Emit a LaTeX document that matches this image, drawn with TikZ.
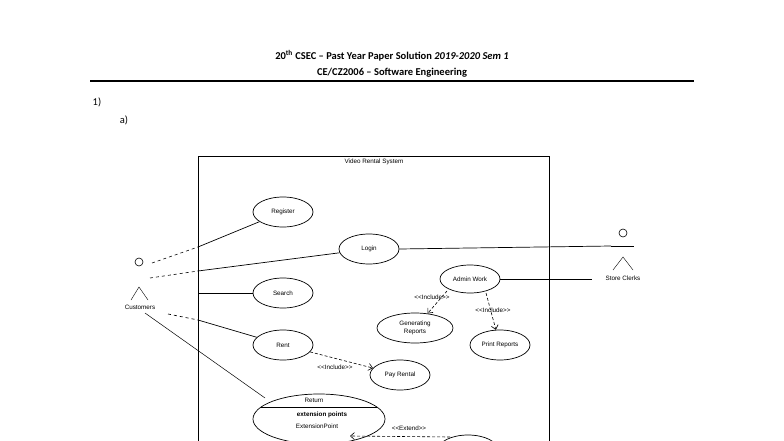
\documentclass[tikz,border=0pt]{standalone}
\usepackage{fontspec}
\setmainfont{Carlito}
\newfontfamily\dfont{Liberation Sans}
\usetikzlibrary{arrows.meta,shapes.geometric}
\begin{document}
\begin{tikzpicture}[x=1pt,y=-1pt,
  uc/.style={draw,ellipse,inner sep=0pt,line width=0.7pt,font=\dfont\fontsize{6.3}{7.5}\selectfont,align=center},
  lbl/.style={font=\dfont\fontsize{6.3}{7.5}\selectfont,inner sep=0pt},
  inc/.style={densely dashed,line width=0.6pt,-{Straight Barb[length=4pt,width=7pt]}},
  ln/.style={line width=0.7pt},
  dsh/.style={dashed,line width=0.6pt}]
\useasboundingbox (0,0) rectangle (784,441);
\node[font=\bfseries\fontsize{10.5}{12}\selectfont] (h1) at (392,56) {20\textsuperscript{th} CSEC -- Past Year Paper Solution \textit{2019-2020 Sem 1}};
\node[font=\bfseries\fontsize{10.5}{12}\selectfont] (h2) at (392,73) {CE/CZ2006 -- Software Engineering};
\draw[line width=1.2pt] (90,81) -- (694,81);
\node[font=\fontsize{10.5}{12}\selectfont] (q1) at (97,102) {1)};
\node[font=\fontsize{10.5}{12}\selectfont] (qa) at (124,120) {a)};
% system
\draw[line width=0.8pt] (198,445) -- (198,156) -- (549,156) -- (549,445);
\node[lbl] (sys) at (374,162) {Video Rental System};
% use cases
\node[uc,minimum width=60pt,minimum height=30pt] (reg) at (283,212) {Register};
\node[uc,minimum width=60pt,minimum height=30pt] (login) at (369,249) {Login};
\node[uc,minimum width=60pt,minimum height=30pt] (search) at (283,293) {Search};
\node[uc,minimum width=60pt,minimum height=30pt] (rent) at (283,345) {Rent};
\node[uc,minimum width=60pt,minimum height=30pt] (pay) at (400,375) {Pay Rental};
\node[uc,minimum width=60pt,minimum height=28pt] (admin) at (470,279) {Admin Work};
\node[uc,minimum width=76pt,minimum height=30pt] (gen) at (415,328) {Generating\\Reports};
\node[uc,minimum width=60pt,minimum height=30pt] (print) at (500,345) {Print Reports};
\node[draw,ellipse,line width=0.7pt,minimum width=132pt,minimum height=50pt] (ret) at (319,419) {};
\draw[line width=0.7pt] (261,407) -- (377,407);
\node[lbl] (rett) at (314,400) {Return};
\node[lbl,font=\dfont\bfseries\fontsize{6.3}{7.5}\selectfont] (ep) at (322,415) {extension points};
\node[lbl] (ep2) at (317,426) {ExtensionPoint};
\node[draw,ellipse,line width=0.7pt,minimum width=60pt,minimum height=30pt] (ext) at (468,450) {};
% actors
\draw[line width=0.6pt] (139,262) circle (4);
\draw[line width=0.4pt] (131,300) -- (139,287) -- (148,300);
\node[lbl] (cust) at (140,307) {Customers};
\coordinate (c1) at (152,263);
\coordinate (c2) at (150,278);
\coordinate (c3) at (168,314);
\coordinate (c4) at (145,313);
\draw[line width=0.6pt] (623,233) circle (4);
\draw[line width=0.6pt] (611,246) -- (634,246);
\draw[line width=0.4pt] (613,270) -- (623,257) -- (633,270);
\node[lbl] (clerk) at (623,278) {Store Clerks};
\coordinate (k1) at (611,246);
\coordinate (k2) at (592,279);
\coordinate (rx) at (350,436);
\coordinate (ex) at (450,437);
% associations
\draw[dsh] (c1) -- (198,247);
\draw[ln] (198,247) -- (reg);
\draw[dsh] (c2) -- (198,271);
\draw[ln] (198,271) -- (login);
\draw[ln] (198,293) -- (search);
\draw[dsh] (c3) -- (198,320);
\draw[ln] (198,320) -- (rent);
\draw[line width=0.5pt] (c4) -- (265,398);
\draw[ln] (login.east) -- (k1);
\draw[ln] (admin.east) -- (k2);
% includes
\draw[inc] (447,291) -- (gen);
\node[lbl] (i1) at (432,297) {<<Include>>};
\draw[inc] (486,293) -- (print);
\node[lbl] (i2) at (493,310) {<<Include>>};
\draw[inc] (rent) -- (pay);
\node[lbl] (i3) at (335,367) {<<Include>>};
\draw[inc] (ex) -- (rx);
\node[lbl] (e1) at (409,428) {<<Extend>>};
\end{tikzpicture}
\end{document}
